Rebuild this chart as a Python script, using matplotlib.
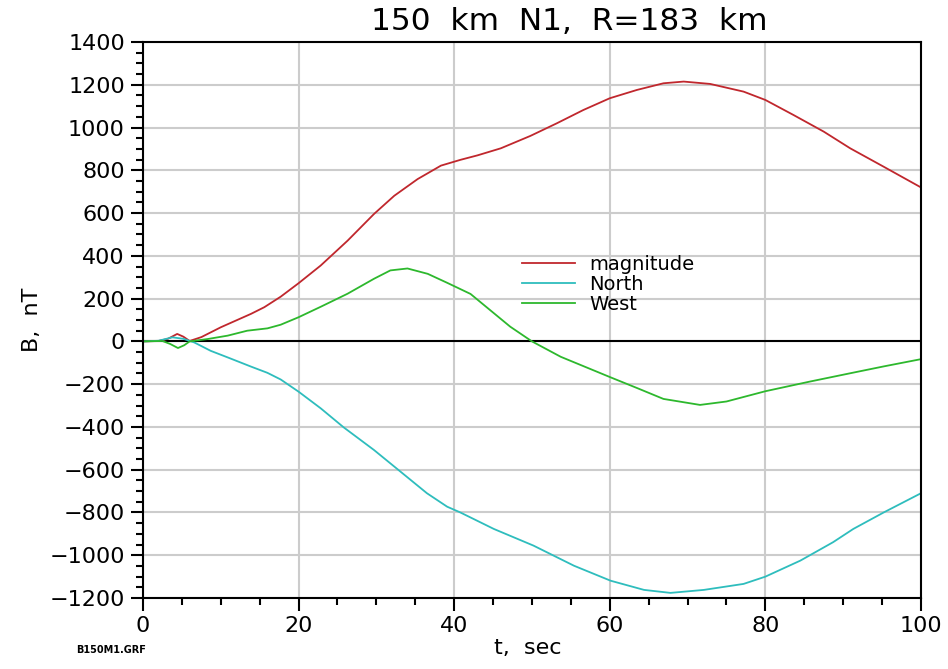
import numpy as np
import matplotlib
matplotlib.use("Agg")
import matplotlib.pyplot as plt
from matplotlib.ticker import MultipleLocator

plt.rcParams.update({"font.family": "DejaVu Sans"})

# ── data ───────────────────────────────────────────────────────────────────────
t_mag = [0, 2, 3.2, 4.4, 5.2, 6, 7.5, 10, 13.9, 15.6, 17.7, 20, 22.85, 26.3, 29.7,
         32.3, 35.3, 38.3, 40.8, 43, 46, 49.8, 53.2, 56.6, 60, 63.5, 66.9, 69.5,
         72.9, 77.2, 80, 83.6, 87.5, 90.9, 95.2, 100]
b_mag = [0, 2, 12, 35, 22, 2, 20, 66, 129, 160, 209, 272, 355, 471, 596,
         681, 759, 822, 849, 870, 903, 961, 1020, 1082, 1137, 1176, 1207, 1215,
         1204, 1168, 1129, 1059, 981, 903, 817, 720]

t_north = [0, 2, 3.8, 5.2, 6.6, 8.7, 10.9, 13.9, 16, 17.7, 20, 22.85, 25.8, 29.7,
           33.1, 36.5, 39.1, 40.8, 45.1, 50.2, 55.4, 60.1, 64.4, 67.8, 72.1, 77.2,
           80, 84.5, 88.7, 91.3, 95.2, 100]
b_north = [0, 3, 19, 12, -5, -44, -75, -118, -147, -178, -235, -313, -402, -508,
           -609, -710, -773, -800, -877, -955, -1049, -1119, -1162, -1176, -1162, -1134,
           -1100, -1025, -939, -877, -800, -710]

t_west = [0, 2.5, 3.5, 4.5, 5.3, 6, 8.3, 10.9, 13.4, 16, 17.7, 20, 22.85, 26.3,
          29.7, 31.8, 34, 36.6, 39.1, 42.1, 44.7, 47.2, 50, 53.7, 57.5, 60.1, 63.5,
          66.9, 71.6, 75, 80, 85.7, 90.9, 95.2, 100]
b_west = [0, 2, -12, -31, -18, 0, 11, 27, 50, 61, 78, 113, 162, 223,
          293, 332, 341, 316, 274, 222, 144, 69, 0, -72, -129, -168, -218,
          -269, -297, -281, -233, -188, -149, -117, -83]

fig = plt.figure(figsize=(9.48, 6.69), dpi=100)
ax = fig.add_axes([0.1508, 0.1061, 0.8207, 0.8311])

ax.plot(t_mag, b_mag, color="#c0272d", lw=1.3, label="magnitude")
ax.plot(t_north, b_north, color="#2ebdbd", lw=1.3, label="North")
ax.plot(t_west, b_west, color="#2db82d", lw=1.3, label="West")
ax.axhline(0, color="black", lw=1.5, zorder=1.5)

ax.set_xlim(0, 100)
ax.set_ylim(-1200, 1400)
ax.xaxis.set_major_locator(MultipleLocator(20))
ax.xaxis.set_minor_locator(MultipleLocator(5))
ax.yaxis.set_major_locator(MultipleLocator(200))
ax.yaxis.set_minor_locator(MultipleLocator(50))
ax.grid(which="major", color="#cccccc", lw=1.5)
ax.set_axisbelow(True)
ax.tick_params(which="major", direction="out", length=9, width=1.5,
               labelsize=16, pad=4, top=False, right=False)
ax.tick_params(which="minor", direction="out", length=5, width=1.5,
               top=False, right=False)
for s in ax.spines.values():
    s.set_linewidth(1.5)

ax.set_xlabel("t,  sec", fontsize=16)
ax.set_ylabel("B,  nT", fontsize=16)
ax.xaxis.set_label_coords(0.494, -0.072)
ax.yaxis.set_label_coords(-0.130, 0.5)

fig.text(0.601, 0.968, "150  km  N1,  R=183  km", fontsize=22.5, ha="center", va="center")
fig.text(0.117, 0.028, "B150M1.GRF", fontsize=7, fontweight="bold", ha="center", va="center")

ax.legend(loc="upper left", bbox_to_anchor=(0.487, 0.6176), frameon=False,
          fontsize=14, handlelength=2.75, handletextpad=0.7, labelspacing=0.05,
          borderpad=0, borderaxespad=0)

fig.savefig("out.png", dpi=100)
